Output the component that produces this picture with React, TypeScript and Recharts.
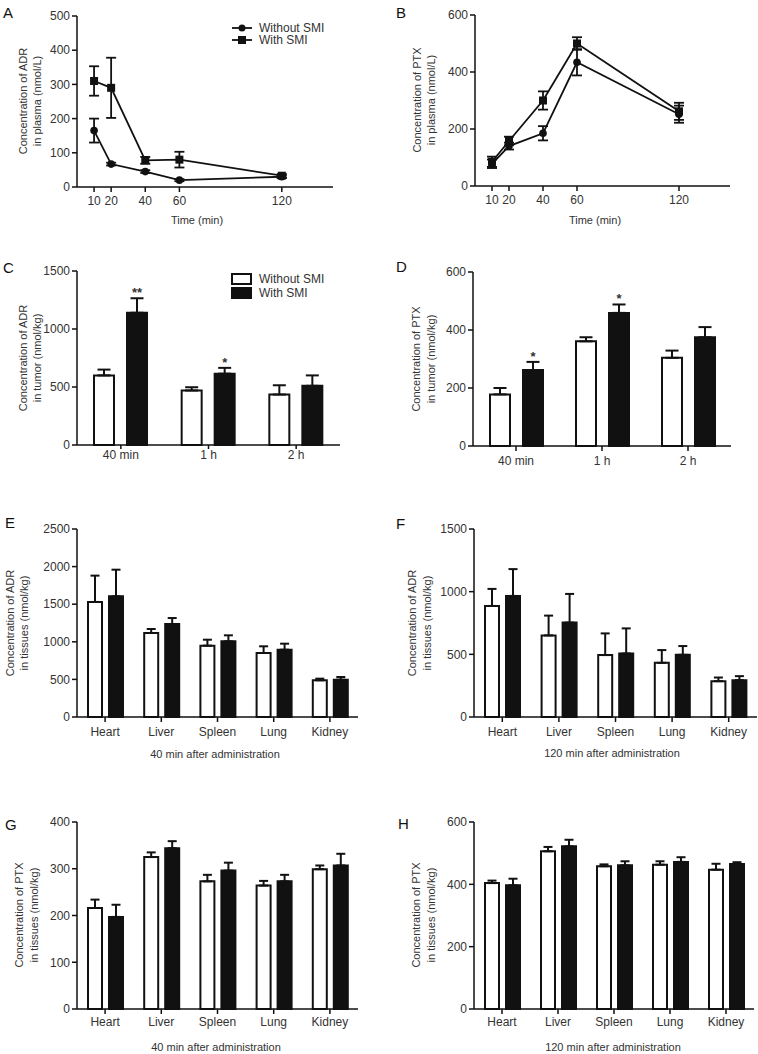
import React from "react";
import { Bar, BarChart, ErrorBar, LabelList, Legend, Line, LineChart, XAxis, YAxis } from "recharts";

const FONT = '"Liberation Sans", Arial, sans-serif';
const INK = "#111";
const TEXT = "#333";

// plasma time course (A, B)
const timePoints = [10, 20, 40, 60, 120];
const adrPlasmaWithout = [165, 67, 45, 20, 30];
const adrPlasmaWithoutSd = [35, 4, 4, 3, 4];
const adrPlasmaWith = [310, 290, 78, 80, 33];
const adrPlasmaWithSd = [43, 88, 10, 23, 5];
const ptxPlasmaWithout = [78, 140, 185, 434, 252];
const ptxPlasmaWithoutSd = [15, 12, 25, 46, 30];
const ptxPlasmaWith = [85, 158, 300, 500, 262];
const ptxPlasmaWithSd = [18, 15, 32, 22, 30];

// tumor (C, D)
const tumorTimes = ["40 min", "1 h", "2 h"];
const adrTumorWithout = [600, 470, 435];
const adrTumorWithoutSd = [50, 28, 80];
const adrTumorWith = [1140, 615, 510];
const adrTumorWithSd = [125, 50, 90];
const adrTumorSig = ["**", "*", ""];
const ptxTumorWithout = [178, 361, 304];
const ptxTumorWithoutSd = [22, 14, 25];
const ptxTumorWith = [262, 459, 375];
const ptxTumorWithSd = [28, 29, 35];
const ptxTumorSig = ["*", "*", ""];

// tissues (E-H)
const organs = ["Heart", "Liver", "Spleen", "Lung", "Kidney"];
const adr40Without = [1530, 1117, 949, 851, 488];
const adr40WithoutSd = [350, 53, 79, 89, 22];
const adr40With = [1605, 1237, 1006, 895, 496];
const adr40WithSd = [354, 79, 80, 80, 36];
const adr120Without = [886, 651, 494, 432, 286];
const adr120WithoutSd = [136, 158, 173, 102, 29];
const adr120With = [966, 753, 507, 496, 294];
const adr120WithSd = [214, 229, 200, 70, 32];
const ptx40Without = [216, 325, 273, 264, 299];
const ptx40WithoutSd = [18, 10, 14, 10, 8];
const ptx40With = [197, 344, 296, 273, 307];
const ptx40WithSd = [26, 15, 17, 14, 25];
const ptx120Without = [404, 506, 458, 463, 447];
const ptx120WithoutSd = [8, 14, 6, 11, 19];
const ptx120With = [397, 522, 461, 472, 465];
const ptx120WithSd = [21, 21, 13, 15, 6];

type Box = { left: number; top: number; width: number; height: number };
type Plot = { x0: number; x1: number; y0: number; y1: number };

const Y_W = 40;
const X_H = 30;

const marginsFor = (box: Box, plot: Plot) => ({
  top: plot.y0 - box.top,
  left: plot.x0 - box.left - Y_W,
  right: box.left + box.width - plot.x1,
  bottom: box.top + box.height - plot.y1 - X_H,
});

const axisLine = { stroke: INK, strokeWidth: 1.5 };
const tickFont = { fill: TEXT, fontSize: 12 };

const LineLegend = ({ payload }: any) => (
  <div style={{ fontSize: 12, color: TEXT }}>
    {(payload ?? []).map((e: any, i: number) => (
      <div key={i} style={{ display: "flex", alignItems: "center", height: 12 }}>
        <svg width={22} height={12}>
          <line x1={1} x2={21} y1={6} y2={6} stroke={INK} strokeWidth={1.8} />
          {e.dataKey === "a" ? <circle cx={11} cy={6} r={3.5} fill={INK} /> : <rect x={7} y={2} width={8} height={8} fill={INK} />}
        </svg>
        <span style={{ marginLeft: 6 }}>{e.value}</span>
      </div>
    ))}
  </div>
);

const BarLegend = ({ payload }: any) => (
  <div style={{ fontSize: 12, color: TEXT }}>
    {(payload ?? []).map((e: any, i: number) => (
      <div key={i} style={{ display: "flex", alignItems: "center", height: 14 }}>
        <svg width={22} height={13}>
          <rect x={1} y={1} width={19} height={10} fill={e.dataKey === "a" ? "#fff" : INK} stroke={INK} strokeWidth={2} />
        </svg>
        <span style={{ marginLeft: 6 }}>{e.value}</span>
      </div>
    ))}
  </div>
);

interface PlasmaProps {
  box: Box;
  plot: Plot;
  without: number[];
  withoutSd: number[];
  withSmi: number[];
  withSd: number[];
  yMax: number;
  yTicks: number[];
  legend?: boolean;
}

function PlasmaPanel({ box, plot, without, withoutSd, withSmi, withSd, yMax, yTicks, legend }: PlasmaProps) {
  const data = timePoints.map((t, i) => ({ t, a: without[i], aSd: withoutSd[i], b: withSmi[i], bSd: withSd[i] }));
  return (
    <div style={{ position: "absolute", left: box.left, top: box.top }}>
      <LineChart width={box.width} height={box.height} data={data} margin={marginsFor(box, plot)}>
        <XAxis
          type="number"
          dataKey="t"
          domain={[0, 150]}
          ticks={timePoints}
          interval={0}
          height={X_H}
          axisLine={axisLine}
          tickLine={axisLine}
          tick={tickFont}
          tickSize={5}
          tickMargin={4}
        />
        <YAxis width={Y_W} domain={[0, yMax]} ticks={yTicks} interval={0} axisLine={axisLine} tickLine={axisLine} tick={tickFont} tickSize={5} tickMargin={2} />
        <Line
          dataKey="a"
          name="Without SMI"
          stroke={INK}
          strokeWidth={1.8}
          isAnimationActive={false}
          activeDot={false}
          dot={(p: any) => <circle key={`a${p.index}`} cx={p.cx} cy={p.cy} r={3.8} fill={INK} />}
        >
          <ErrorBar dataKey="aSd" direction="y" width={5} stroke={INK} strokeWidth={1.8} />
        </Line>
        <Line
          dataKey="b"
          name="With SMI"
          stroke={INK}
          strokeWidth={1.8}
          isAnimationActive={false}
          activeDot={false}
          dot={(p: any) => <rect key={`b${p.index}`} x={p.cx - 4} y={p.cy - 4} width={8} height={8} fill={INK} />}
        >
          <ErrorBar dataKey="bSd" direction="y" width={5} stroke={INK} strokeWidth={1.8} />
        </Line>
        {legend && (
          <Legend
            layout="vertical"
            align="center"
            verticalAlign="middle"
            itemSorter="dataKey"
            wrapperStyle={{ left: 231, top: 22, width: 130 }}
            content={LineLegend}
          />
        )}
      </LineChart>
    </div>
  );
}

interface BarProps {
  box: Box;
  plot: Plot;
  cats: string[];
  without: number[];
  withoutSd: number[];
  withSmi: number[];
  withSd: number[];
  sig?: string[];
  yMax: number;
  yTicks: number[];
  barSize: number;
  barGap: number;
  cap: number;
  xTickSize: number;
  xTickMargin: number;
  legend?: boolean;
}

function BarPanel(props: BarProps) {
  const { box, plot, cats, without, withoutSd, withSmi, withSd, sig, yMax, yTicks, barSize, barGap, cap, xTickSize, xTickMargin, legend } = props;
  const rows = cats.map((name, i) => ({
    name,
    a: without[i],
    aSd: [0, withoutSd[i]],
    b: withSmi[i],
    bSd: [0, withSd[i]],
    sig: sig ? sig[i] : "",
  }));

  // stars sit just above the error cap of the SMI bar
  const renderStar = (p: any) => {
    const vb = p.viewBox ?? p;
    const row = rows[p.index];
    if (!row || !row.sig) return null;
    const perUnit = vb.height / row.b;
    const capY = vb.y - row.bSd[1] * perUnit;
    return (
      <text x={vb.x + vb.width / 2} y={capY - 1} textAnchor="middle" fontSize={13} fontWeight="bold" fill={TEXT}>
        {row.sig}
      </text>
    );
  };

  return (
    <div style={{ position: "absolute", left: box.left, top: box.top }}>
      <BarChart width={box.width} height={box.height} data={rows} margin={marginsFor(box, plot)} barSize={barSize} barGap={barGap}>
        <XAxis dataKey="name" height={X_H} interval={0} axisLine={axisLine} tickLine={axisLine} tick={tickFont} tickSize={xTickSize} tickMargin={xTickMargin} />
        <YAxis width={Y_W} domain={[0, yMax]} ticks={yTicks} interval={0} axisLine={axisLine} tickLine={axisLine} tick={tickFont} tickSize={5} tickMargin={2} />
        <Bar dataKey="a" name="Without SMI" fill="#fff" stroke={INK} strokeWidth={2} isAnimationActive={false}>
          <ErrorBar dataKey="aSd" direction="y" width={cap} stroke={INK} strokeWidth={2} />
        </Bar>
        <Bar dataKey="b" name="With SMI" fill={INK} stroke={INK} strokeWidth={2} isAnimationActive={false}>
          <ErrorBar dataKey="bSd" direction="y" width={cap} stroke={INK} strokeWidth={2} />
          {sig && <LabelList dataKey="sig" content={renderStar} />}
        </Bar>
        {legend && (
          <Legend
            layout="vertical"
            align="center"
            verticalAlign="middle"
            itemSorter="dataKey"
            wrapperStyle={{ left: 231, top: 22, width: 130 }}
            content={BarLegend}
          />
        )}
      </BarChart>
    </div>
  );
}

// panel letters, axis titles
const letters = [
  { t: "A", x: 3, y: 18 },
  { t: "B", x: 396, y: 18 },
  { t: "C", x: 3, y: 273 },
  { t: "D", x: 396, y: 272 },
  { t: "E", x: 5, y: 528 },
  { t: "F", x: 396, y: 529 },
  { t: "G", x: 5, y: 830 },
  { t: "H", x: 398, y: 829 },
];

const yTitles = [
  { lines: ["Concentration of ADR", "in plasma (nmol/L)"], xs: [23, 37], cy: 101 },
  { lines: ["Concentration of PTX", "in plasma (nmol/L)"], xs: [417, 431], cy: 100 },
  { lines: ["Concentration of ADR", "in tumor (nmol/kg)"], xs: [23, 37], cy: 358 },
  { lines: ["Concentration of PTX", "in tumor (nmol/kg)"], xs: [416, 431], cy: 359 },
  { lines: ["Concentration of ADR", "in tissues (nmol/kg)"], xs: [10, 24], cy: 623 },
  { lines: ["Concentration of ADR", "in tissues (nmol/kg)"], xs: [412, 427], cy: 623 },
  { lines: ["Concentration of PTX", "in tissues (nmol/kg)"], xs: [19, 34], cy: 915 },
  { lines: ["Concentration of PTX", "in tissues (nmol/kg)"], xs: [416, 431], cy: 915 },
];

const xTitles = [
  { t: "Time (min)", x: 197, y: 220 },
  { t: "Time (min)", x: 595, y: 220 },
  { t: "40 min after administration", x: 215, y: 754 },
  { t: "120 min after administration", x: 612, y: 753 },
  { t: "40 min after administration", x: 216, y: 1047 },
  { t: "120 min after administration", x: 613, y: 1047 },
];

export default function App() {
  return (
    <div style={{ position: "absolute", left: 0, top: 0, width: 758, height: 1054, background: "#fff", fontFamily: FONT }}>
      <PlasmaPanel
        box={{ left: 0, top: 0, width: 379, height: 235 }}
        plot={{ x0: 77, x1: 333, y0: 16, y1: 187 }}
        without={adrPlasmaWithout}
        withoutSd={adrPlasmaWithoutSd}
        withSmi={adrPlasmaWith}
        withSd={adrPlasmaWithSd}
        yMax={500}
        yTicks={[0, 100, 200, 300, 400, 500]}
        legend
      />
      <PlasmaPanel
        box={{ left: 379, top: 0, width: 379, height: 235 }}
        plot={{ x0: 475, x1: 730, y0: 15, y1: 186 }}
        without={ptxPlasmaWithout}
        withoutSd={ptxPlasmaWithoutSd}
        withSmi={ptxPlasmaWith}
        withSd={ptxPlasmaWithSd}
        yMax={600}
        yTicks={[0, 200, 400, 600]}
      />
      <BarPanel
        box={{ left: 0, top: 250, width: 379, height: 240 }}
        plot={{ x0: 77, x1: 340, y0: 271, y1: 445 }}
        cats={tumorTimes}
        without={adrTumorWithout}
        withoutSd={adrTumorWithoutSd}
        withSmi={adrTumorWith}
        withSd={adrTumorWithSd}
        sig={adrTumorSig}
        yMax={1500}
        yTicks={[0, 500, 1000, 1500]}
        barSize={20}
        barGap={13}
        cap={6.5}
        xTickSize={4}
        xTickMargin={1}
        legend
      />
      <BarPanel
        box={{ left: 379, top: 250, width: 379, height: 240 }}
        plot={{ x0: 473, x1: 731, y0: 272, y1: 446 }}
        cats={tumorTimes}
        without={ptxTumorWithout}
        withoutSd={ptxTumorWithoutSd}
        withSmi={ptxTumorWith}
        withSd={ptxTumorWithSd}
        sig={ptxTumorSig}
        yMax={600}
        yTicks={[0, 200, 400, 600]}
        barSize={20}
        barGap={13}
        cap={6.5}
        xTickSize={5}
        xTickMargin={5}
      />
      <BarPanel
        box={{ left: 0, top: 500, width: 379, height: 265 }}
        plot={{ x0: 77, x1: 358, y0: 529, y1: 717 }}
        cats={organs}
        without={adr40Without}
        withoutSd={adr40WithoutSd}
        withSmi={adr40With}
        withSd={adr40WithSd}
        yMax={2500}
        yTicks={[0, 500, 1000, 1500, 2000, 2500]}
        barSize={14}
        barGap={7}
        cap={4.5}
        xTickSize={5}
        xTickMargin={5}
      />
      <BarPanel
        box={{ left: 379, top: 500, width: 379, height: 265 }}
        plot={{ x0: 474, x1: 757, y0: 529, y1: 717 }}
        cats={organs}
        without={adr120Without}
        withoutSd={adr120WithoutSd}
        withSmi={adr120With}
        withSd={adr120WithSd}
        yMax={1500}
        yTicks={[0, 500, 1000, 1500]}
        barSize={14}
        barGap={7}
        cap={4.5}
        xTickSize={5}
        xTickMargin={5}
      />
      <BarPanel
        box={{ left: 0, top: 790, width: 379, height: 264 }}
        plot={{ x0: 77, x1: 358, y0: 822, y1: 1009 }}
        cats={organs}
        without={ptx40Without}
        withoutSd={ptx40WithoutSd}
        withSmi={ptx40With}
        withSd={ptx40WithSd}
        yMax={400}
        yTicks={[0, 100, 200, 300, 400]}
        barSize={14}
        barGap={7}
        cap={4.5}
        xTickSize={5}
        xTickMargin={3}
      />
      <BarPanel
        box={{ left: 379, top: 790, width: 379, height: 264 }}
        plot={{ x0: 474, x1: 754, y0: 822, y1: 1009 }}
        cats={organs}
        without={ptx120Without}
        withoutSd={ptx120WithoutSd}
        withSmi={ptx120With}
        withSd={ptx120WithSd}
        yMax={600}
        yTicks={[0, 200, 400, 600]}
        barSize={14}
        barGap={7}
        cap={4.5}
        xTickSize={5}
        xTickMargin={3}
      />
      <svg width={758} height={1054} style={{ position: "absolute", left: 0, top: 0, pointerEvents: "none" }}>
        {letters.map((l) => (
          <text key={l.t} x={l.x} y={l.y} fontSize={15} fill={INK}>
            {l.t}
          </text>
        ))}
        {yTitles.map((yt, i) =>
          yt.lines.map((line, j) => (
            <text
              key={`${i}-${j}`}
              x={yt.xs[j]}
              y={yt.cy}
              transform={`rotate(-90 ${yt.xs[j]} ${yt.cy})`}
              textAnchor="middle"
              dominantBaseline="central"
              fontSize={11}
              fill={TEXT}
            >
              {line}
            </text>
          ))
        )}
        {xTitles.map((xt, i) => (
          <text key={i} x={xt.x} y={xt.y} textAnchor="middle" dominantBaseline="central" fontSize={11} fill={TEXT}>
            {xt.t}
          </text>
        ))}
      </svg>
    </div>
  );
}
